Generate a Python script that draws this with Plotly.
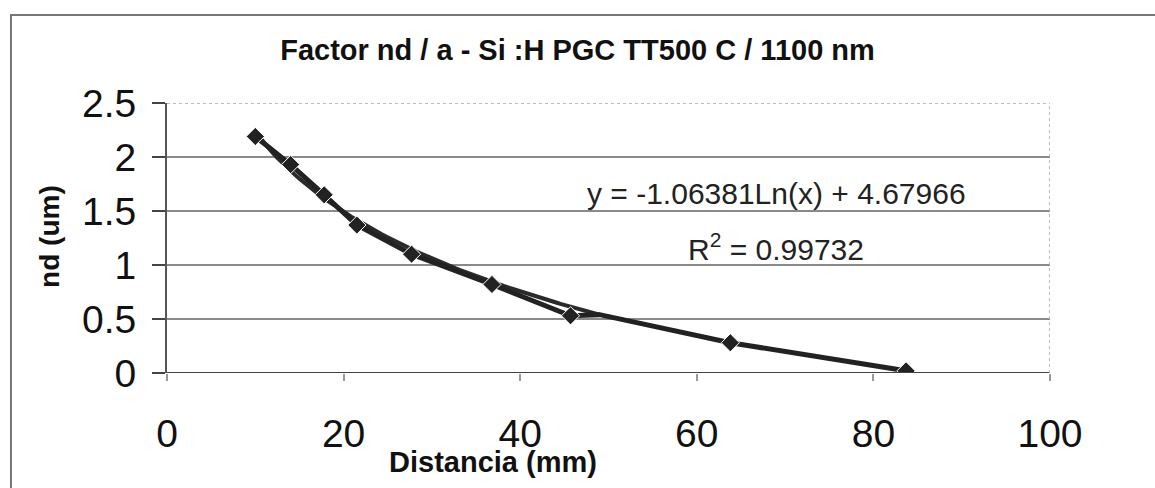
import numpy as np
import plotly.graph_objects as go

distancia = [10, 14, 17.8, 21.5, 27.7, 36.8, 45.7, 49, 63.8, 83.7]
nd = [2.19, 1.93, 1.65, 1.37, 1.10, 0.82, 0.53, 0.54, 0.28, 0.02]

coef_a = -1.06381
coef_b = 4.67966
trend_x_min, trend_x_max = 10, 49

x_ticks = [0, 20, 40, 60, 80, 100]
y_ticks = [0, 0.5, 1, 1.5, 2, 2.5]

tx = np.linspace(trend_x_min, trend_x_max, 80)
ty = coef_a * np.log(tx) + coef_b

marker_sizes = [14] * len(distancia)
marker_sizes[7] = 0  # no visible marker at the junction point

fig = go.Figure()
fig.add_trace(go.Scatter(x=tx, y=ty, mode="lines",
                         line=dict(color="#2a2a2a", width=4), showlegend=False))
fig.add_trace(go.Scatter(x=distancia, y=nd, mode="lines+markers",
                         line=dict(color="#222222", width=5),
                         marker=dict(symbol="diamond", size=marker_sizes, color="#222222",
                                     opacity=1),
                         showlegend=False))

fig.update_layout(
    width=1155, height=488,
    margin=dict(l=167, r=105, t=103, b=115),
    paper_bgcolor="white", plot_bgcolor="white",
    font=dict(family="Arial, Liberation Sans", color="#111111"),
    title=dict(text="<b>Factor nd / a - Si :H PGC TT500 C / 1100 nm</b>",
               x=0.5, xanchor="center", y=0.897, yanchor="middle",
               font=dict(family="Arial, Liberation Sans", size=29, color="#111111")),
    xaxis=dict(range=[0, 100], tickvals=x_ticks, ticktext=[str(v) for v in x_ticks],
               showgrid=False, zeroline=False, showline=False,
               ticks="outside", ticklen=7, tickcolor="#999999", tickwidth=2,
               ticklabelstandoff=19,
               tickfont=dict(size=39, color="#111111")),
    yaxis=dict(range=[0, 2.5], tickvals=y_ticks, ticktext=["0", "0.5", "1", "1.5", "2", "2.5"],
               showgrid=True, gridcolor="#8a8a8a", gridwidth=2, zeroline=False,
               showline=True, linecolor="#555555", linewidth=2,
               ticks="outside", ticklen=13, tickcolor="#444444", tickwidth=2,
               ticklabelstandoff=8,
               tickfont=dict(size=39, color="#111111")),
)

# bottom axis line and dotted top/right borders
fig.add_shape(type="line", xref="x", yref="y", x0=0, x1=100, y0=0, y1=0,
              line=dict(color="#444444", width=2))
fig.add_shape(type="line", xref="x", yref="y", x0=0, x1=100, y0=2.5, y1=2.5,
              line=dict(color="#bbbbbb", width=2, dash="dot"))
fig.add_shape(type="line", xref="x", yref="y", x0=100, x1=100, y0=0, y1=2.5,
              line=dict(color="#bbbbbb", width=2, dash="dot"))
# outer frame
fig.add_shape(type="rect", xref="paper", yref="paper",
              x0=-0.1767, x1=1.13, y0=-0.5, y1=1.326,
              line=dict(color="#777777", width=2))

fig.add_annotation(x=-0.1325, y=0.504, xref="paper", yref="paper", showarrow=False,
                   textangle=-90, xanchor="center", yanchor="middle",
                   text="<b>nd (um)</b>", font=dict(size=28, color="#111111"))
fig.add_annotation(x=0.369, y=-0.33, xref="paper", yref="paper", showarrow=False,
                   xanchor="center", yanchor="middle",
                   text="<b>Distancia (mm)</b>", font=dict(size=29, color="#111111"))
fig.add_annotation(x=69, y=1.66, xref="x", yref="y", showarrow=False,
                   xanchor="center", yanchor="middle",
                   text="y = -1.06381Ln(x) + 4.67966", font=dict(size=30, color="#222222"))
fig.add_annotation(x=69, y=1.17, xref="x", yref="y", showarrow=False,
                   xanchor="center", yanchor="middle",
                   text="R<sup>2</sup> = 0.99732", font=dict(size=30, color="#222222"))

fig.write_html("out.html")
